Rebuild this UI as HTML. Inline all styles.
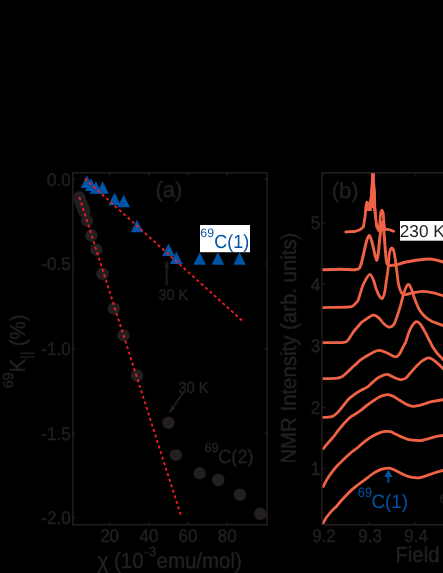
<!DOCTYPE html>
<html>
<head>
<meta charset="utf-8">
<title>Figure</title>
<style>
html,body{margin:0;padding:0;background:#000;}
body{width:443px;height:573px;overflow:hidden;}
svg{display:block;will-change:transform;}
text{font-family:"Liberation Sans",sans-serif;fill:#231f20;stroke:#231f20;stroke-width:0.5px;text-rendering:geometricPrecision;}
.blue{stroke:none;}
.ax{stroke:#231f20;stroke-width:1.45;fill:none;}
.tk{stroke:#231f20;stroke-width:1.1;fill:none;}
.cv{stroke:#f06246;stroke-width:2.8;fill:none;stroke-linejoin:round;stroke-linecap:round;}
.rd{stroke:#ed1c24;stroke-width:1.9;fill:none;stroke-dasharray:3 2.8;}
.tri{fill:#0054a6;}
.cir{fill:#231f20;}
.blue{fill:#0054a6;}
.tl{font-size:18.2px;}
.ti{font-size:21.7px;}
</style>
</head>
<body>
<svg width="443" height="573" viewBox="0 0 443 573">
<rect x="0" y="0" width="443" height="573" fill="#000"/>

<!-- PANEL (a) -->
<rect class="ax" x="72.8" y="172.8" width="194.3" height="352"/>
<path class="tk" d="M72.8 179.3h3M267.1 179.3h-3M72.8 264h3M267.1 264h-3M72.8 348.7h3M267.1 348.7h-3M72.8 433.3h3M267.1 433.3h-3M72.8 518h3M267.1 518h-3"/>
<path class="tk" d="M109.6 524.8v-3M109.6 172.8v3M148.9 524.8v-3M148.9 172.8v3M188 524.8v-3M188 172.8v3M227.2 524.8v-3M227.2 172.8v3"/>
<g class="tl" text-anchor="end">
<text x="70.6" y="185.7" textLength="23.6" lengthAdjust="spacingAndGlyphs">0.0</text>
<text x="70.6" y="270.4" textLength="29.3" lengthAdjust="spacingAndGlyphs">-0.5</text>
<text x="70.6" y="355.1" textLength="29.3" lengthAdjust="spacingAndGlyphs">-1.0</text>
<text x="70.6" y="439.7" textLength="29.3" lengthAdjust="spacingAndGlyphs">-1.5</text>
<text x="70.6" y="524.4" textLength="29.3" lengthAdjust="spacingAndGlyphs">-2.0</text>
</g>
<g class="tl" text-anchor="middle">
<text x="109.6" y="542" textLength="18.9" lengthAdjust="spacingAndGlyphs">20</text>
<text x="148.9" y="542" textLength="18.9" lengthAdjust="spacingAndGlyphs">40</text>
<text x="188.0" y="542" textLength="18.9" lengthAdjust="spacingAndGlyphs">60</text>
<text x="227.2" y="542" textLength="18.9" lengthAdjust="spacingAndGlyphs">80</text>
</g>
<g class="cir">
<circle cx="79.4" cy="197.5" r="6.2"/>
<circle cx="80.3" cy="200.3" r="6.2"/>
<circle cx="81.2" cy="203.2" r="6.2"/>
<circle cx="82.2" cy="206" r="6.2"/>
<circle cx="83.3" cy="208.7" r="6.2"/>
<circle cx="84.5" cy="211.6" r="6.2"/>
<circle cx="87" cy="220.7" r="6.2"/>
<circle cx="91.3" cy="235.5" r="6.2"/>
<circle cx="96.3" cy="249.7" r="6.2"/>
<circle cx="102.5" cy="273.8" r="6.2"/>
<circle cx="113.8" cy="308.5" r="6.2"/>
<circle cx="123.4" cy="335.4" r="6.2"/>
<circle cx="136.9" cy="375.5" r="6.2"/>
<circle cx="168.5" cy="422.8" r="6.2"/>
<circle cx="175.8" cy="455.1" r="6.2"/>
<circle cx="199.6" cy="473.3" r="6.2"/>
<circle cx="218.3" cy="480" r="6.2"/>
<circle cx="239.9" cy="494.6" r="6.2"/>
<circle cx="260.3" cy="513.8" r="6.2"/>
</g>
<g class="tri">
<path d="M87 175.6l6.3 12.5h-12.6z"/>
<path d="M91.2 178.5l6.3 12.5h-12.6z"/>
<path d="M96 181.3l6.3 12.5h-12.6z"/>
<path d="M102.6 181.3l6.3 12.5h-12.6z"/>
<path d="M114.6 192.7l6.3 12.5h-12.6z"/>
<path d="M123.7 194.8l6.3 12.5h-12.6z"/>
<path d="M137 219.7l6.3 12.5h-12.6z"/>
<path d="M168.5 243.6l6.3 12.5h-12.6z"/>
<path d="M176.3 251.4l6.3 12.5h-12.6z"/>
<path d="M199.7 252.2l6.3 12.5h-12.6z"/>
<path d="M217.9 252.2l6.3 12.5h-12.6z"/>
<path d="M239.6 252.2l6.3 12.5h-12.6z"/>
</g>
<path class="rd" d="M84.6 178.7L243.5 321.8"/>
<path class="rd" d="M79.4 197L181 515.6"/>
<text x="155.4" y="196.9" font-size="22">(a)</text>
<rect x="200" y="225" width="50" height="27.2" fill="#fff"/>
<text x="200.3" y="237" font-size="12.3" class="blue">69</text>
<text x="214.3" y="248.4" font-size="19" class="blue" textLength="35" lengthAdjust="spacingAndGlyphs">C(1)</text>
<text x="158.6" y="300.1" font-size="15.2" textLength="29.6" lengthAdjust="spacingAndGlyphs">30 K</text>
<path class="tk" stroke-width="1.7" d="M166.7 285.3V266" style="stroke-width:1.7"/>
<path d="M166.7 259.2l-2.4 9h4.8z" fill="#231f20"/>
<text x="178.4" y="393.2" font-size="16" textLength="30.3" lengthAdjust="spacingAndGlyphs">30 K</text>
<path class="tk" style="stroke-width:1.7" d="M182.9 393L172.6 408"/>
<path d="M168.5 414L175.2 408.3L171.4 405.7z" fill="#231f20"/>
<text x="204.4" y="452" font-size="13">69</text>
<text x="218.2" y="463.3" font-size="19" textLength="35.5" lengthAdjust="spacingAndGlyphs">C(2)</text>
<g transform="translate(24.6 388) rotate(-90)">
<text x="-0.3" y="-12.1" font-size="14.5">69</text>
<text x="15.4" y="0" class="ti" textLength="13.7" lengthAdjust="spacingAndGlyphs">K</text>
<path class="tk" style="stroke-width:1.4" d="M30.9 -4.4V10M34.8 -4.4V10"/>
<text x="41.7" y="0" class="ti" textLength="31.9" lengthAdjust="spacingAndGlyphs">(%)</text>
</g>
<text x="97.5" y="567.5" class="ti" textLength="46.1" lengthAdjust="spacingAndGlyphs">χ (10</text>
<text x="144.3" y="555.9" font-size="13.4">-3</text>
<text x="156.5" y="567.5" class="ti" textLength="85.4" lengthAdjust="spacingAndGlyphs">emu/mol)</text>
<!-- PANEL (b) -->
<path class="ax" d="M444 172.8H321.9V524.8H444"/>
<path class="tk" d="M321.9 223h3M321.9 284.4h3M321.9 345.8h3M321.9 407.6h3M321.9 469h3"/>
<path class="tk" d="M323.2 524.8v-3M323.2 172.8v3M369.3 524.8v-3M369.3 172.8v3M415.3 524.8v-3M415.3 172.8v3"/>
<g class="tl" text-anchor="end">
<text x="320.2" y="229.4" textLength="9.5" lengthAdjust="spacingAndGlyphs">5</text>
<text x="320.2" y="290.8" textLength="9.5" lengthAdjust="spacingAndGlyphs">4</text>
<text x="320.2" y="352.2" textLength="9.5" lengthAdjust="spacingAndGlyphs">3</text>
<text x="320.2" y="414.0" textLength="9.5" lengthAdjust="spacingAndGlyphs">2</text>
<text x="320.2" y="475.4" textLength="9.5" lengthAdjust="spacingAndGlyphs">1</text>
</g>
<g class="tl" text-anchor="middle">
<text x="324.0" y="541.8" textLength="23.6" lengthAdjust="spacingAndGlyphs">9.2</text>
<text x="370.1" y="541.8" textLength="23.6" lengthAdjust="spacingAndGlyphs">9.3</text>
<text x="416.1" y="541.8" textLength="23.6" lengthAdjust="spacingAndGlyphs">9.4</text>
</g>
<text x="331.8" y="198.2" font-size="22">(b)</text>
<text transform="translate(296.3 463.6) rotate(-90)" class="ti" textLength="231" lengthAdjust="spacingAndGlyphs">NMR Intensity (arb. units)</text>
<text x="395.5" y="561.7" class="ti" textLength="43.9" lengthAdjust="spacingAndGlyphs">Field</text>
<clipPath id="cb"><rect x="322.6" y="173.3" width="122" height="350.8"/></clipPath>
<g clip-path="url(#cb)">
<path class="cv" d="M323.0 523.5C323.2 523.0 323.9 521.8 324.5 520.7C325.1 519.6 325.6 518.5 326.7 517.0C327.8 515.5 329.5 513.4 331.2 511.6C332.9 509.8 335.0 507.9 336.6 506.2C338.2 504.5 339.2 502.9 340.7 501.2C342.2 499.5 343.8 497.9 345.6 496.0C347.4 494.1 349.7 491.7 351.7 489.9C353.7 488.1 355.6 486.7 357.8 485.0C360.0 483.3 362.4 481.6 365.0 479.7C367.6 477.8 370.9 475.0 373.3 473.4C375.7 471.8 377.3 470.9 379.4 470.1C381.4 469.2 384.0 468.7 385.6 468.4C387.2 468.1 387.8 468.0 389.2 468.2C390.6 468.4 392.5 469.1 394.1 469.8C395.7 470.5 397.2 471.3 399.0 472.2C400.8 473.1 403.2 474.4 405.0 475.2C406.8 476.0 408.2 476.5 409.9 476.9C411.6 477.3 413.3 477.6 415.0 477.7C416.7 477.8 417.8 478.0 420.0 477.6C422.2 477.2 425.2 476.1 428.0 475.2C430.8 474.3 434.1 472.9 436.8 472.1C439.5 471.3 442.8 470.5 444.0 470.2"/>
<path class="cv" d="M323.3 486.5C323.9 485.2 325.5 481.6 327.2 478.9C328.9 476.2 331.3 472.9 333.3 470.3C335.3 467.8 337.3 465.7 339.4 463.6C341.4 461.5 343.6 459.4 345.6 457.5C347.7 455.6 349.7 453.7 351.7 452.0C353.7 450.3 356.2 448.8 357.8 447.5C359.4 446.2 359.5 445.8 361.1 444.5C362.7 443.2 365.2 441.1 367.2 439.6C369.2 438.1 371.3 436.8 373.3 435.7C375.3 434.5 377.3 433.5 379.4 432.8C381.4 432.1 383.8 431.6 385.6 431.4C387.5 431.2 388.9 431.3 390.5 431.7C392.1 432.1 393.7 433.2 395.3 434.0C396.9 434.8 398.6 435.7 400.2 436.4C401.8 437.1 403.4 437.7 405.0 438.3C406.6 438.9 408.1 439.5 410.0 439.8C411.9 440.1 414.5 440.3 416.4 440.4C418.3 440.5 419.5 440.8 421.4 440.5C423.3 440.2 425.4 439.5 428.0 438.8C430.6 438.1 434.1 436.9 436.8 436.3C439.5 435.8 442.8 435.5 444.0 435.4"/>
<path class="cv" d="M323.3 448.6C323.9 447.9 325.7 445.7 327.0 444.2C328.3 442.7 329.6 441.2 330.9 439.8C332.1 438.4 333.4 436.9 334.5 435.5C335.6 434.1 336.4 432.8 337.6 431.2C338.8 429.6 340.4 427.8 341.9 426.0C343.4 424.2 345.2 422.1 346.8 420.5C348.4 418.9 350.3 417.2 351.7 416.2C353.1 415.2 353.4 415.3 355.0 414.3C356.6 413.3 359.1 411.6 361.1 410.1C363.1 408.6 365.2 406.8 367.2 405.2C369.2 403.6 371.3 402.2 373.3 400.8C375.3 399.4 377.6 397.9 379.4 396.9C381.2 396.0 382.9 395.6 384.3 395.2C385.7 394.8 386.6 394.5 388.0 394.6C389.4 394.7 391.3 395.4 392.9 396.1C394.5 396.9 396.4 398.3 397.8 399.1C399.2 399.9 399.5 400.2 401.1 401.1C402.7 402.0 405.2 403.7 407.2 404.6C409.2 405.5 411.3 406.2 413.3 406.3C415.3 406.4 417.4 405.7 419.4 405.3C421.4 404.8 423.5 404.1 425.5 403.5C427.5 402.9 428.5 402.3 431.6 401.6C434.7 401.0 441.9 399.9 444.0 399.6"/>
<path class="cv" d="M323.3 417.3C324.1 417.3 326.7 417.4 328.4 417.2C330.1 417.0 331.7 416.9 333.3 416.1C334.9 415.2 336.6 413.6 338.2 411.9C339.8 410.2 341.5 407.8 343.1 405.8C344.7 403.8 346.4 401.4 348.0 399.7C349.6 398.0 351.3 396.9 352.9 395.6C354.5 394.3 356.4 393.0 357.8 392.1C359.2 391.2 359.5 391.0 361.1 390.2C362.7 389.4 365.2 388.6 367.2 387.2C369.2 385.8 371.3 383.3 373.3 381.6C375.3 379.9 377.1 378.2 379.4 377.0C381.6 375.8 384.8 374.4 386.8 374.3C388.9 374.2 390.1 375.6 391.7 376.3C393.3 377.0 395.0 377.9 396.6 378.5C398.2 379.1 399.5 379.7 401.1 379.6C402.7 379.5 404.4 379.2 406.0 378.0C407.6 376.8 409.3 374.2 410.9 372.4C412.5 370.5 414.2 368.6 415.8 366.9C417.4 365.2 419.1 363.3 420.7 362.0C422.3 360.7 424.2 359.7 425.5 359.0C426.8 358.4 427.6 358.0 428.5 357.9C429.4 357.8 429.9 357.9 431.0 358.5C432.1 359.1 433.1 359.6 435.3 361.4C437.5 363.2 442.6 368.1 444.0 369.5"/>
<path class="cv" d="M323.3 378.6C324.6 378.6 328.6 378.8 330.9 378.7C333.2 378.6 335.2 378.5 337.0 378.2C338.8 377.8 340.3 377.6 341.9 376.7C343.5 375.8 345.2 374.3 346.8 372.8C348.4 371.3 350.1 369.4 351.7 367.9C353.3 366.4 355.2 364.9 356.6 363.6C358.0 362.3 358.8 361.3 360.2 360.2C361.6 359.1 362.9 358.3 365.0 357.0C367.1 355.7 370.7 353.5 373.1 352.4C375.5 351.3 377.1 350.3 379.3 350.4C381.6 350.5 384.2 351.8 386.6 352.8C389.1 353.8 392.3 355.9 394.0 356.5C395.7 357.1 396.0 356.9 397.0 356.4C398.0 355.9 398.9 354.9 399.9 353.4C400.9 351.9 401.9 349.3 402.9 347.3C403.9 345.3 405.0 343.8 406.0 341.2C407.0 338.6 408.0 334.4 409.1 331.7C410.2 329.0 411.7 326.5 412.9 324.8C414.1 323.1 415.1 321.7 416.4 321.6C417.7 321.5 418.9 322.4 420.5 324.4C422.1 326.4 424.4 330.9 425.9 333.5C427.3 336.1 428.0 337.7 429.2 340.0C430.4 342.3 431.5 345.0 432.9 347.3C434.3 349.6 435.9 351.8 437.8 354.0C439.7 356.2 443.0 359.2 444.0 360.3"/>
<path class="cv" d="M323.3 342.6C325.0 342.6 330.2 342.6 333.3 342.6C336.4 342.6 339.6 342.8 341.9 342.6C344.1 342.4 345.4 342.3 346.8 341.3C348.2 340.3 349.3 338.1 350.5 336.4C351.7 334.7 352.9 332.5 354.1 330.9C355.3 329.3 356.6 328.1 357.8 326.7C359.0 325.3 360.3 323.5 361.5 322.4C362.7 321.3 363.1 321.1 365.0 319.9C366.9 318.7 370.9 315.6 373.1 315.2C375.4 314.8 376.7 316.2 378.5 317.6C380.3 319.0 382.2 322.2 383.9 323.8C385.6 325.4 386.9 326.8 388.5 327.0C390.1 327.2 392.0 326.6 393.4 325.0C394.8 323.4 395.6 320.6 396.7 317.5C397.8 314.4 398.9 310.9 400.2 306.6C401.5 302.3 403.0 295.4 404.3 291.7C405.6 288.0 406.7 285.3 407.8 284.6C408.9 284.0 409.8 285.4 411.0 288.0C412.2 290.6 413.7 296.4 415.1 300.0C416.5 303.6 417.6 306.8 419.2 309.5C420.8 312.2 422.6 314.4 424.6 316.3C426.6 318.2 428.1 319.5 431.3 321.1C434.5 322.7 441.9 325.1 444.0 325.9"/>
<path class="cv" d="M323.0 307.6C325.3 307.6 336.2 307.4 340.0 307.3C343.8 307.2 349.3 307.1 351.4 306.6C353.5 306.1 354.6 304.4 355.5 303.5C356.4 302.6 357.4 302.0 358.2 300.0C359.0 298.0 360.9 291.1 361.8 288.5C362.7 285.9 364.1 282.5 365.2 280.6C366.3 278.7 368.7 274.4 369.8 274.4C370.9 274.4 372.9 278.7 373.7 280.6C374.5 282.5 375.2 286.4 376.0 288.5C376.8 290.6 378.7 295.0 379.5 296.3C380.3 297.6 381.4 298.8 382.0 298.6C382.6 298.4 383.6 296.1 384.0 295.0C384.4 293.9 384.8 291.8 385.1 290.0C385.4 288.2 385.8 284.3 386.2 281.7C386.6 279.1 387.5 273.8 387.9 270.4C388.3 267.0 388.7 259.2 389.0 256.5C389.3 253.8 389.9 251.1 390.3 250.0C390.7 248.9 391.5 247.9 391.9 247.9C392.3 247.9 393.1 249.0 393.5 250.0C393.9 251.0 394.3 253.1 394.7 255.5C395.1 257.9 395.9 264.6 396.4 268.1C396.9 271.6 397.7 279.0 398.1 281.7C398.5 284.4 399.1 286.8 399.7 288.5C400.3 290.2 401.8 293.8 402.9 294.5C404.0 295.2 406.4 294.3 408.0 294.0C409.6 293.7 412.9 292.7 415.0 292.4C417.1 292.1 421.1 291.3 423.5 291.4C425.9 291.5 430.6 292.2 433.3 292.8C436.0 293.4 442.6 295.6 444.0 296.0"/>
<path class="cv" style="stroke-width:3" d="M323.0 269.8C325.0 269.7 336.3 269.2 340.0 269.2C343.7 269.2 352.7 269.8 355.0 269.7C357.3 269.6 358.6 269.1 359.3 268.3C360.0 267.5 360.8 265.0 361.4 263.0C362.0 261.0 363.6 253.8 364.2 251.1C364.8 248.4 366.3 241.7 366.9 239.9C367.5 238.1 368.8 235.2 369.4 235.4C370.0 235.6 371.4 240.0 372.0 242.0C372.6 244.0 373.8 250.1 374.3 252.2C374.8 254.3 376.1 260.3 376.6 260.4C377.1 260.5 378.0 255.5 378.3 253.4C378.6 251.3 379.1 244.5 379.4 242.0C379.7 239.5 380.3 233.8 380.5 231.8C380.7 229.8 381.2 225.6 381.4 224.5C381.6 223.4 382.1 222.0 382.3 222.0C382.5 222.0 383.0 223.4 383.2 224.5C383.4 225.6 383.7 229.8 383.9 231.8C384.1 233.8 384.5 239.5 384.7 242.0C384.9 244.5 385.4 251.0 385.6 253.4C385.8 255.8 386.5 261.0 386.8 262.4C387.1 263.8 387.9 265.2 388.5 265.5C389.1 265.8 391.0 265.4 392.0 265.3C393.0 265.2 395.5 265.2 397.0 264.8C398.5 264.4 402.8 262.8 405.0 262.3C407.2 261.8 413.1 260.7 416.0 260.3C418.9 259.9 427.4 259.0 429.7 259.0C432.0 259.0 434.3 259.6 436.0 260.0C437.7 260.4 443.1 261.9 444.0 262.2"/>
<path class="cv" d="M345.8 232.0L350.0 231.7L355.0 231.5L360.0 229.7L363.4 227.0L365.0 217.0L366.0 206.0L367.0 202.3L369.5 206.0L371.5 195.0L372.5 176.0L373.0 166.0L373.6 185.0L374.4 205.0L375.6 218.0L376.9 227.0L378.8 230.5L379.8 224.0L380.6 213.0L381.9 210.2L383.2 213.0L384.0 224.0L385.0 229.5L387.9 229.3L393.6 231.3"/>
<path fill="#f06246" d="M371.5 172.5L374.4 172.5L375.3 185.7L375.9 192L376.1 206L376.6 212L377.2 224L378.2 227L377 229L375.3 226L374.2 211L373.2 210.9L373.2 208L371.9 208L371.9 210.9L367 210.9L365 206.5L365 203.5L367 200.8L369.4 203.2L370.2 196L370.4 190L371 185.7Z"/>
</g>
<rect x="400" y="221" width="44" height="19.7" fill="#fff"/>
<text x="399.8" y="236.7" font-size="17.2" style="stroke:none">230 K</text>
<path d="M388.4 482.7V475" stroke="#0054a6" stroke-width="1.9" fill="none"/>
<path d="M388.4 469.6l-4 7.4h8z" fill="#0054a6"/>
<text x="357.8" y="496.7" font-size="13.6" class="blue" textLength="14.2" lengthAdjust="spacingAndGlyphs">69</text>
<text x="371.4" y="508.1" font-size="19.3" class="blue" textLength="36.6" lengthAdjust="spacingAndGlyphs">C(1)</text>
<text x="439.8" y="503" font-size="12.9">69</text>
</svg>
</body>
</html>
